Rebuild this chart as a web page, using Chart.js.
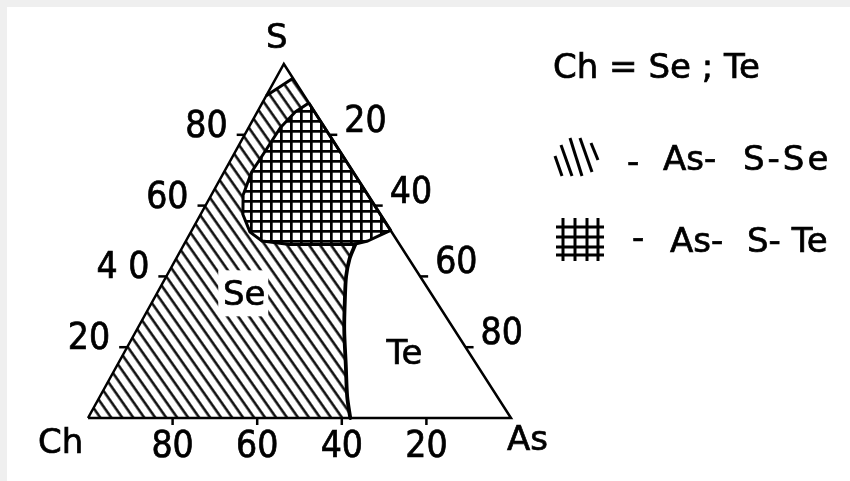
<!DOCTYPE html>
<html>
<head>
<meta charset="utf-8">
<script src="https://cdn.jsdelivr.net/npm/chart.js@4.4.1/dist/chart.umd.min.js"></script>
<style>
  html, body { margin: 0; padding: 0; background: #fff; }
  #wrap { width: 850px; height: 481px; }
</style>
</head>
<body>
<div id="wrap"><canvas id="diagram" width="850" height="481"></canvas></div>
<script>
// Compositions are [S %, As %]; the chalcogen Ch makes up the rest.
const tickValues = [20, 40, 60, 80];
const leftTickLabels = ['20', '4 0', '60', '80'];   // S
const rightTickLabels = ['20', '40', '60', '80'];   // As
const bottomTickLabels = ['80', '60', '40', '20'];  // Ch

// S-rich corner cut off from the glass region
const capLine = [[91, 0], [96, 4]];

// border between the Se glass field and the (white) Te field
const teBoundary = [[49, 40.5], [45, 41], [40, 42.5], [34, 45], [25, 49], [15, 54], [6, 58.5], [0, 62]];

// As-S-Te glass field, starting and ending on the S-As edge
const asSTeRegion = [
  [89, 11], [86.5, 9], [82, 7.5], [75.5, 7], [69.5, 6.5], [63, 7.5], [57.5, 10],
  [52.5, 14], [50, 18], [49, 25], [49, 33.5], [49, 40], [50, 43], [51.5, 45], [53, 47], [89, 11]
];

const seLabelAt = [35.5, 20.5];
const teLabelAt = [19, 66];

const legendTitle = 'Ch = Se ; Te';
const legendSystems = [['As-', 'S-Se'], ['As-', 'S- Te']];

const APEX = 0.463; // the S corner sits slightly left of the base midpoint
const INK = '#000';
const LABEL_FONT = '"DejaVu Sans", sans-serif';
const NUM_FONT = '"DejaVu Sans Condensed", "DejaVu Sans", sans-serif';

function toXY(p) {
  const s = p[0] / 100, as = p[1] / 100;
  return { x: as + s * APEX, y: s };
}

const triangle = [[0, 0], [0, 100], [100, 0], [0, 0]];
const seRegion = [[0, 0]].concat(
  teBoundary.slice().reverse(),
  [asSTeRegion[asSTeRegion.length - 2]],
  capLine.slice().reverse(),
  [[0, 0]]
);

function hatchPattern() {
  const c = document.createElement('canvas');
  c.width = 9; c.height = 9;
  const g = c.getContext('2d');
  g.fillStyle = INK;
  g.fillRect(3.4, 0, 2.4, 9);
  const p = g.createPattern(c, 'repeat');
  p.setTransform(new DOMMatrix().rotate(-35));
  return p;
}

function gridPattern() {
  const c = document.createElement('canvas');
  c.width = 10; c.height = 10;
  const g = c.getContext('2d');
  g.fillStyle = '#fff';
  g.fillRect(0, 0, 10, 10);
  g.fillStyle = INK;
  g.fillRect(0, 0, 2.7, 10);
  g.fillRect(0, 0, 10, 2.7);
  return g.createPattern(c, 'repeat');
}

function path(points, extra) {
  return Object.assign({
    data: points.map(toXY),
    showLine: true,
    pointRadius: 0,
    borderColor: INK,
    borderWidth: 2.5,
    fill: false,
    tension: 0
  }, extra);
}

function toPx(chart, p) {
  const q = toXY(p);
  return { x: chart.scales.x.getPixelForValue(q.x), y: chart.scales.y.getPixelForValue(q.y) };
}

function stroke(ctx, x1, y1, x2, y2, w) {
  ctx.lineWidth = w || 2.5;
  ctx.beginPath();
  ctx.moveTo(x1, y1);
  ctx.lineTo(x2, y2);
  ctx.stroke();
}

// printed lettering is a touch heavier than the plain face
function text(ctx, str, x, y) {
  ctx.lineWidth = 0.7;
  ctx.fillText(str, x, y);
  ctx.strokeText(str, x, y);
}

const paperEdge = {
  id: 'paperEdge',
  beforeDraw(chart) {
    const ctx = chart.ctx;
    ctx.save();
    ctx.fillStyle = '#fff';
    ctx.fillRect(0, 0, chart.width, chart.height);
    ctx.fillStyle = '#efefef';
    ctx.fillRect(0, 0, chart.width, 7);
    ctx.fillRect(0, 0, 7, chart.height);
    ctx.restore();
  }
};

const ternaryAxes = {
  id: 'ternaryAxes',
  afterDatasetsDraw(chart) {
    const ctx = chart.ctx;
    ctx.save();
    ctx.strokeStyle = INK;
    ctx.fillStyle = INK;
    ctx.lineCap = 'butt';

    ctx.font = '37px ' + NUM_FONT;
    tickValues.forEach((v, i) => {
      // S scale on the left edge
      let p = toPx(chart, [v, 0]);
      stroke(ctx, p.x, p.y, p.x - 8, p.y);
      ctx.textAlign = 'right';
      text(ctx, leftTickLabels[i], p.x - 17, p.y + 2);

      // As scale on the right edge
      p = toPx(chart, [100 - v, v]);
      stroke(ctx, p.x, p.y, p.x + 8, p.y);
      ctx.textAlign = 'left';
      text(ctx, rightTickLabels[i], p.x + 15, p.y - 3);

      // Ch scale along the base
      const ch = Number(bottomTickLabels[i]);
      p = toPx(chart, [0, 100 - ch]);
      stroke(ctx, p.x, p.y, p.x, p.y + 7);
      ctx.textAlign = 'center';
      text(ctx, bottomTickLabels[i], p.x, p.y + 39);
    });

    // corner names
    ctx.font = '34px ' + LABEL_FONT;
    let p = toPx(chart, [100, 0]);
    ctx.textAlign = 'center';
    text(ctx, 'S', p.x - 7, p.y - 16);
    p = toPx(chart, [0, 100]);
    ctx.textAlign = 'left';
    text(ctx, 'As', p.x - 4, p.y + 32);
    p = toPx(chart, [0, 0]);
    text(ctx, 'Ch', p.x - 50, p.y + 35);

    // field names
    ctx.textAlign = 'center';
    p = toPx(chart, seLabelAt);
    ctx.fillStyle = '#fff';
    ctx.fillRect(p.x - 26, p.y - 22, 50, 46);
    ctx.fillStyle = INK;
    text(ctx, 'Se', p.x, p.y + 13);
    p = toPx(chart, teLabelAt);
    text(ctx, 'Te', p.x, p.y + 13);

    // key
    ctx.textAlign = 'left';
    text(ctx, legendTitle, 553, 78);

    [[555, 156, 562, 176], [561, 145, 572, 176], [570, 138, 582, 176], [580, 138, 592, 172], [591, 143, 598, 160]]
      .forEach(l => stroke(ctx, l[0], l[1], l[2], l[3], 3));
    [563, 575, 587, 598].forEach(x => stroke(ctx, x, 218, x, 261, 3));
    [227, 237, 247, 255].forEach(y => stroke(ctx, 556, y, 604, y, 3));

    text(ctx, '-', 627, 173);
    text(ctx, legendSystems[0][0], 663, 170);
    ctx.letterSpacing = '3px';
    text(ctx, legendSystems[0][1], 743, 170);
    ctx.letterSpacing = '0px';
    text(ctx, '-', 632, 249);
    text(ctx, legendSystems[1][0], 670, 252);
    text(ctx, legendSystems[1][1], 747, 252);
    ctx.restore();
  }
};

new Chart(document.getElementById('diagram'), {
  type: 'scatter',
  data: {
    datasets: [
      path(triangle, { order: 0, borderJoinStyle: 'miter' }),
      path(teBoundary, { order: 1, borderWidth: 3.8, tension: 0.3, borderJoinStyle: 'round', borderCapStyle: 'round' }),
      path(capLine, { order: 2, borderWidth: 3 }),
      path(asSTeRegion, { order: 3, borderWidth: 3, borderJoinStyle: 'round', fill: 'shape', backgroundColor: gridPattern() }),
      path(seRegion, { order: 4, borderWidth: 0, borderColor: 'rgba(0,0,0,0)', fill: 'shape', backgroundColor: hatchPattern() })
    ]
  },
  options: {
    responsive: false,
    animation: false,
    events: [],
    layout: { padding: 0 },
    plugins: { legend: { display: false }, tooltip: { enabled: false } },
    scales: {
      x: { type: 'linear', display: false, min: -0.20804, max: 1.80142 },
      y: { type: 'linear', display: false, min: -0.17797, max: 1.18079 }
    }
  },
  plugins: [paperEdge, ternaryAxes]
});
</script>
</body>
</html>
